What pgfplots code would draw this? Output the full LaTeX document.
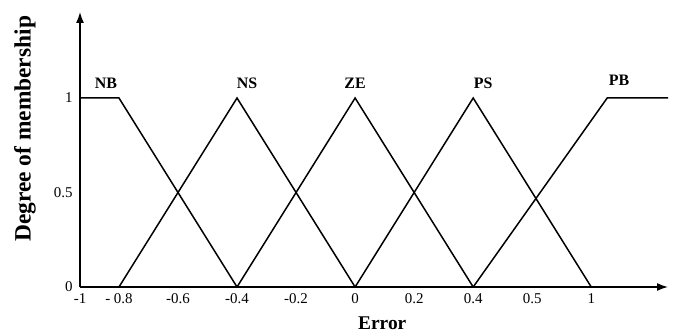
\documentclass[border=0pt]{standalone}
\usepackage{fontspec}
\setmainfont{Liberation Serif}
\usepackage{pgfplots}
\pgfplotsset{compat=1.18}
\usetikzlibrary{arrows.meta}

\begin{document}
\begin{tikzpicture}
\begin{axis}[
    scale only axis,
    width=588bp, height=275bp,
    xmin=-4.66, xmax=5.3,
    ymin=0, ymax=1.455,
    axis lines=left,
    axis line style={line width=1.5bp, -{Latex[length=11bp,width=8bp]}},
    major tick length=0pt,
    xtick={-4.66,-4,-3,-2,-1,0,1,2,3,4},
    xticklabels={-1,- 0.8,-0.6,-0.4,-0.2,0,0.2,0.4,0.5,1},
    ytick={0,0.5,1},
    yticklabels={0,0.5,1},
    tick label style={font=\fontsize{15}{17}\selectfont},
    xticklabel style={yshift=-3bp},
    yticklabel style={xshift=-4bp},
    xlabel={Error},
    xlabel style={at={(rel axis cs:0.514,-0.131)}, anchor=center,
        font=\fontsize{19.5}{22}\selectfont\bfseries},
    ylabel={Degree of membership},
    ylabel style={at={(rel axis cs:-0.0935,0.575)}, anchor=center,
        font=\fontsize{23.5}{26}\selectfont\bfseries},
    clip=false,
    cycle list={{black}},
    every axis plot/.append style={black, line width=1.5bp, no marks},
]
% NB
\addplot coordinates {(-4.66,1) (-4,1) (-2,0)};
% NS
\addplot coordinates {(-4,0) (-2,1) (0,0)};
% ZE
\addplot coordinates {(-2,0) (0,1) (2,0)};
% PS
\addplot coordinates {(0,0) (2,1) (4,0)};
% PB
\addplot coordinates {(2,0) (4.27,1) (5.3,1)};

\node[font=\fontsize{16}{18}\selectfont\bfseries] at (axis cs:-4.22,1.08) {NB};
\node[font=\fontsize{16}{18}\selectfont\bfseries] at (axis cs:-1.83,1.08) {NS};
\node[font=\fontsize{16}{18}\selectfont\bfseries] at (axis cs:0,1.08) {ZE};
\node[font=\fontsize{16}{18}\selectfont\bfseries] at (axis cs:2.17,1.08) {PS};
\node[font=\fontsize{16}{18}\selectfont\bfseries] at (axis cs:4.47,1.095) {PB};
\end{axis}
\path (current axis.south west) ++(-80bp,-47bp) rectangle ++(682bp,334bp);
\end{tikzpicture}
\end{document}
